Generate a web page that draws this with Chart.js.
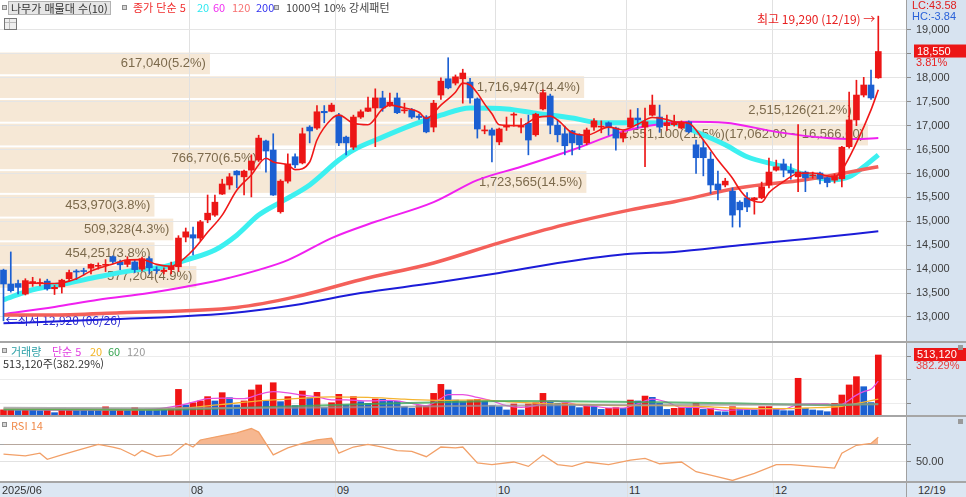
<!DOCTYPE html>
<html lang="ko">
<head>
<meta charset="utf-8">
<title>나무가 일봉</title>
<script src="https://cdn.jsdelivr.net/npm/chart.js@4.4.1/dist/chart.umd.min.js"></script>
<style>
  html, body { margin: 0; padding: 0; background: #fff; }
  #wrap { position: relative; width: 966px; height: 497px; overflow: hidden; font-family: 'Noto Sans CJK KR', 'Noto Sans', sans-serif; }
  canvas { position: absolute; left: 0; }
  .lg { position: absolute; font-size: 11px; line-height: 14px; white-space: nowrap; }
  .sq { position: absolute; width: 3px; height: 3px; border: 1px solid #8c8c8c; background: #d4d4d4; }
  .hr { position: absolute; left: 0; width: 966px; height: 2px; background: #a6a6a6; }
  .vl { position: absolute; width: 1px; background: #dedede; }
  #xband { position: absolute; left: 0; top: 483px; width: 966px; height: 14px; background: #dce7f3; }
  .xl { position: absolute; top: 483px; font: 11px 'Liberation Sans', sans-serif; line-height: 14px; color: #333; }
</style>
</head>
<body>
<div id="wrap">
  <canvas id="cPrice" width="966" height="341" style="top:0"></canvas>
  <div class="hr" style="top:341px"></div>
  <canvas id="cVol" width="966" height="72" style="top:343px"></canvas>
  <div class="hr" style="top:415px"></div>
  <canvas id="cRsi" width="966" height="64" style="top:417px"></canvas>
  <div class="hr" style="top:481px"></div>
  <div id="xband"></div>

  <div class="sq" style="left:2px;top:5px"></div>
  <div class="lg" style="left:8px;top:1px;height:12px;line-height:12px;padding:0 2px;background:#e6e6e6;border:1px solid #b2b2b2;color:#333">나무가 매물대 수(10)</div>
  <div class="sq" style="left:122px;top:5px"></div>
  <div class="lg" style="left:133px;top:0;color:#f02c2c">종가 단순 5</div>
  <div class="lg" style="left:197px;top:0;color:#2ee8f0">20</div>
  <div class="lg" style="left:213px;top:0;color:#f030f0">60</div>
  <div class="lg" style="left:232px;top:0;color:#f77070">120</div>
  <div class="lg" style="left:256px;top:0;color:#3434f0">200</div>
  <div class="sq" style="left:274px;top:5px"></div>
  <div class="lg" style="left:286px;top:0;color:#444">1000억 10% 강세패턴</div>
  <div style="position:absolute;left:4px;top:18px;width:11px;height:10px;border:1px solid #777;background:linear-gradient(#bbb,#bbb) 0 3px/100% 1px no-repeat,linear-gradient(#bbb,#bbb) 4px 0/1px 100% no-repeat,#eee"></div>

  <div class="sq" style="left:2px;top:348px"></div>
  <div class="lg" style="left:11px;top:344px;color:#2a9fa6">거래량</div>
  <div class="lg" style="left:52px;top:344px;color:#e23ee2">단순 5</div>
  <div class="lg" style="left:90px;top:344px;color:#f2b422">20</div>
  <div class="lg" style="left:108px;top:344px;color:#35a450">60</div>
  <div class="lg" style="left:127px;top:344px;color:#999">120</div>
  <div class="lg" style="left:3px;top:356px;color:#333">513,120주(382.29%)</div>

  <div class="sq" style="left:2px;top:422px"></div>
  <div class="lg" style="left:11px;top:418px;color:#f08a4a">RSI 14</div>
  <div id="xlabels"></div>
</div>
<script>
// 일봉 (2025/06/26 ~ 12/19)
const opens = [
  13980, 13690, 13700, 13480, 13700, 13700, 13750, 13590, 13630, 13800,
  13960, 13970, 14020, 14060, 14080, 14260, 14150, 14100, 14150, 14000,
  14220, 13990, 13950, 13990, 14050, 14670, 14720, 14650, 15030, 15130,
  15570, 15760, 16050, 15930, 16070, 16280, 16680, 16490, 15200, 15840,
  16350, 16220, 16970, 16950, 17300, 17300, 17220, 16760, 16550, 17180,
  17300, 17370, 17580, 17430, 17580, 17310, 17330, 17200, 17180, 16970,
  17640, 17980, 17890, 17980, 17910, 17560, 16890, 16910, 16660, 16970,
  17220, 16970, 17050, 16810, 17350, 17620, 17010, 16830, 16890, 16810,
  16640, 16970, 16970, 17060, 16950, 16740, 16970, 17160, 16970, 17220,
  17180, 17000, 17020, 16950, 17080, 16600, 16540, 16300, 15780, 15760,
  15630, 15400, 15490, 15450, 15490, 15760, 16070, 16200, 16070, 15930,
  16030, 15950, 16010, 15910, 15860, 15890, 16560, 17120, 17640, 17850,
  18000
];
const highs = [
  14000, 14360, 13770, 13800, 13830, 13800, 13790, 13660, 13790, 13980,
  13990, 14020, 14110, 14130, 14200, 14280, 14190, 14260, 14200, 14250,
  14260, 14050, 14030, 14150, 14700, 14860, 14880, 15020, 15550, 15550,
  15880, 16000, 16060, 16070, 16390, 16800, 16700, 16830, 15870, 16410,
  16410, 16950, 17000, 17420, 17420, 17470, 17260, 16780, 17220, 17330,
  17600, 17770, 17720, 17680, 17680, 17470, 17360, 17240, 17210, 17530,
  18000, 18420, 18060, 18180, 17990, 17580, 17000, 16950, 16950, 17180,
  17270, 17150, 17220, 17260, 17750, 17660, 17120, 16990, 16900, 16830,
  16950, 17150, 17100, 17080, 16970, 16880, 17330, 17360, 17370, 17640,
  17430, 17220, 17220, 17100, 17100, 16700, 16700, 16450, 16050, 15900,
  15700, 15430, 15600, 15500, 15820, 16320, 16280, 16300, 16200, 17020,
  16050, 16030, 16030, 15930, 15990, 16570, 17700, 17950, 18010, 18160,
  19290
];
const lows = [
  12920, 13520, 13480, 13460, 13640, 13650, 13560, 13470, 13500, 13750,
  13780, 13880, 13900, 14000, 13950, 14120, 13990, 14050, 13930, 13960,
  13900, 13910, 13900, 13900, 13950, 14570, 14300, 14600, 14970, 15100,
  15560, 15670, 15700, 15550, 15510, 16250, 16030, 15540, 15170, 15800,
  16120, 16200, 16640, 16920, 17060, 17290, 16580, 16390, 16500, 17150,
  17290, 16560, 17300, 17400, 17250, 17260, 17150, 17130, 16850, 16870,
  17550, 17770, 17850, 17470, 17470, 16740, 16830, 16240, 16600, 16900,
  16990, 16850, 16390, 16780, 17330, 16830, 16660, 16390, 16390, 16500,
  16600, 16900, 16850, 16800, 16490, 16660, 16950, 16950, 16140, 17200,
  16860, 16900, 16990, 16930, 16850, 16000, 15950, 15580, 15450, 15720,
  14880, 14880, 15200, 15150, 15470, 15700, 16050, 15930, 15880, 15620,
  15620, 15900, 15780, 15720, 15800, 15720, 16530, 17000, 17600, 17550,
  17990
];
const closes = [
  13690, 13550, 13620, 13760, 13740, 13720, 13590, 13620, 13770, 13930,
  13940, 13950, 14100, 14080, 14100, 14160, 14090, 14190, 13990, 14220,
  14030, 13970, 13980, 14060, 14650, 14780, 14650, 14990, 15170, 15400,
  15780, 15930, 15970, 16050, 16260, 16740, 16470, 15550, 15840, 16200,
  16180, 16830, 16890, 17290, 17270, 17430, 16640, 16640, 17180, 17290,
  17370, 17580, 17370, 17490, 17270, 17330, 17180, 17170, 16870, 17470,
  17930, 17790, 18020, 18100, 17580, 16930, 16910, 16800, 16930, 17010,
  17240, 17000, 16700, 17240, 17690, 17010, 16810, 16580, 16640, 16600,
  16910, 17100, 16990, 16970, 16740, 16850, 17160, 17120, 17080, 17430,
  16970, 17060, 17060, 17060, 16870, 16330, 16330, 15760, 15660, 15840,
  15130, 15240, 15300, 15490, 15720, 16030, 16140, 16070, 16010, 16030,
  15910, 15970, 15890, 15810, 15950, 16550, 17120, 17640, 17850, 17580,
  18550
];
const volumes = [
  44000, 45000, 38000, 42000, 41000, 36000, 38000, 20000, 42000, 44000,
  43000, 42000, 41000, 40000, 70000, 42000, 48000, 45000, 62000, 48000,
  44000, 42000, 40000, 55000, 219000, 86000, 105000, 120000, 157000, 120000,
  191000, 148000, 86000, 120000, 214000, 257000, 120000, 276000, 114000, 157000,
  80000, 205000, 148000, 194000, 63000, 105000, 177000, 86000, 157000, 114000,
  100000, 137000, 134000, 120000, 118000, 71000, 57000, 80000, 82000, 185000,
  262000, 214000, 128000, 114000, 128000, 134000, 120000, 80000, 71000, 43000,
  94000, 43000, 94000, 105000, 185000, 108000, 100000, 103000, 80000, 63000,
  80000, 77000, 48000, 57000, 63000, 57000, 128000, 120000, 162000, 151000,
  100000, 48000, 57000, 63000, 57000, 100000, 48000, 57000, 28000, 27000,
  71000, 57000, 43000, 42000, 71000, 72000, 48000, 37000, 36000, 314000,
  57000, 43000, 37000, 28000, 100000, 171000, 257000, 328000, 242000, 106400,
  513120
];

// 이동평균선 (캔들 번호, 값) - 그림에서 읽은 값
const ma5 = [[3,13710],[7,13700],[10,13800],[12,13960],[15,14110],[17,14190],[19,14200],[21,14100],[23,14060],[24,14130],[26,14400],[28,14770],[30,15130],[32,15650],[34,15970],[36,16320],[37,16240],[39,16180],[40,16080],[42,16240],[43,16700],[45,17140],[46,17220],[48,17050],[50,17020],[52,17350],[53,17430],[55,17370],[57,17280],[58,17150],[60,17430],[62,17700],[63,17890],[64,17850],[65,17680],[66,17450],[67,17250],[68,17020],[71,17000],[73,17160],[75,17200],[76,17120],[78,16850],[80,16800],[83,16970],[85,16910],[87,17030],[89,17170],[91,17130],[92,17080],[94,17050],[96,16700],[98,16280],[100,15900],[101,15660],[102,15490],[104,15400],[105,15600],[107,15830],[109,16000],[111,16010],[114,15930],[115,16070],[117,16640],[119,17330],[120,17750]];
const ma20 = [[0,13360],[4,13570],[9,13710],[13,13840],[18,13980],[22,14050],[25,14190],[29,14400],[32,14710],[35,15130],[38,15400],[42,15760],[46,16280],[48,16490],[52,16760],[56,17010],[60,17220],[64,17370],[69,17350],[73,17260],[78,17160],[82,17060],[87,17060],[92,17050],[95,16870],[99,16600],[102,16350],[107,16140],[110,15970],[114,15870],[116,15930],[118,16140],[120,16390]];
const ma60 = [[0,13060],[7,13210],[13,13360],[20,13500],[25,13630],[31,13820],[39,14190],[45,14650],[51,14990],[59,15400],[65,15860],[71,16140],[78,16490],[85,16880],[89,17010],[94,17080],[99,17060],[106,16870],[113,16740],[117,16720],[120,16740]];
const ma120 = [[0,13040],[6,13040],[16,13090],[32,13200],[40,13420],[49,13780],[59,14130],[68,14550],[77,14930],[86,15240],[92,15410],[101,15700],[110,15870],[120,16140]];
const ma200 = [[0,12870],[13,12940],[31,13080],[40,13250],[49,13500],[59,13710],[68,13920],[77,14150],[86,14320],[92,14360],[101,14500],[110,14630],[120,14790]];

// 거래량 이동평균
const volMa5 = [[0,45000],[10,42000],[20,48000],[24,80000],[26,110000],[28,140000],[30,145000],[33,140000],[35,175000],[37,200000],[39,190000],[41,170000],[43,155000],[45,130000],[47,130000],[50,120000],[53,125000],[56,100000],[58,80000],[60,140000],[61,175000],[63,175000],[65,150000],[67,120000],[69,80000],[71,65000],[73,80000],[75,120000],[77,110000],[79,85000],[81,75000],[83,60000],[85,60000],[87,95000],[89,135000],[91,110000],[93,65000],[95,65000],[97,55000],[99,40000],[101,45000],[103,50000],[105,55000],[107,50000],[109,90000],[111,95000],[113,95000],[114,80000],[115,90000],[117,170000],[118,200000],[119,220000],[120,290000]];
const volMa20 = [[0,50000],[20,45000],[25,60000],[30,90000],[35,120000],[40,140000],[45,155000],[50,150000],[55,135000],[60,125000],[65,130000],[70,110000],[75,95000],[80,90000],[85,80000],[90,80000],[95,75000],[100,60000],[105,55000],[108,55000],[110,60000],[115,75000],[118,110000],[120,135000]];
const volMa60 = [[0,48000],[20,45000],[30,55000],[40,75000],[50,95000],[60,110000],[70,120000],[80,115000],[90,110000],[100,100000],[110,88000],[115,85000],[120,95000]];
const volMa120 = [[0,62000],[20,58000],[40,62000],[60,75000],[80,85000],[100,88000],[120,92000]];

// RSI 14
const rsi14 = [[0,59],[3,57],[5,60],[6,53],[8,58],[10,63],[13,70],[15,67],[16,65],[18,57],[19,63],[21,56],[23,58],[25,71],[26,67],[27,75],[30,80],[32,83],[34,88],[35,84],[37,58],[39,66],[41,71],[43,75],[45,77],[46,60],[48,67],[50,70],[52,67],[54,63],[56,62],[58,56],[60,67],[62,66],[63,67],[65,49],[67,47],[70,50],[72,45],[74,58],[76,47],[78,45],[80,50],[83,47],[86,52],[88,54],[90,48],[93,50],[95,39],[98,33],[100,29],[103,37],[106,47],[108,47],[111,45],[114,43],[115,60],[117,69],[119,71],[120,78]];

// 매물대 (아래에서 위로)
const zoneLow = 13590;
const zoneStep = 496;
const zoneVolumes = [577204, 454251, 509328, 453970, 1723565, 766770, 2551100, 2515126, 1716947, 617040];
const zonePcts = [4.9, 3.8, 4.3, 3.8, 14.5, 6.5, 21.5, 21.2, 14.4, 5.2];

const monthStarts = [0, 26, 46, 68, 86, 106];
const monthLabels = ['2025/06', '08', '09', '10', '11', '12'];
const lastDate = '12/19';
const lowDate = '06/26';
const priceTicks = [13000, 13500, 14000, 14500, 15000, 15500, 16000, 16500, 17000, 17500, 18000, 18500, 19000];
const dayChangePct = 3.81;
const volChangePct = 382.29;

const RED = '#ec1616';
const BLUE = '#1b5fd2';
const NUM_FONT = "11px 'Liberation Sans', sans-serif";
const fmt = v => v.toLocaleString('en-US');
const pts = arr => arr.map(([x, y]) => ({ x, y }));
const idx = closes.map((_, i) => i);

function xAxis() {
  return {
    type: 'linear', min: -0.48, max: 123.8, offset: false,
    ticks: { display: false },
    grid: { color: '#e1e1e1', drawTicks: false, offset: false },
    border: { display: false },
    afterBuildTicks: s => { s.ticks = monthStarts.slice(1).map(m => ({ value: m - 0.5 })); }
  };
}

function yAxis(min, max, ticks, extra) {
  return Object.assign({
    position: 'right', min, max,
    afterFit: s => { s.width = 60; },
    afterBuildTicks: s => { s.ticks = ticks.map(v => ({ value: v })); },
    ticks: { display: false },
    grid: { color: '#e5e5e5', tickLength: 5, tickColor: '#8a8a8a' },
    border: { color: '#a0a0a0' }
  }, extra || {});
}

const axisBg = {
  id: 'axisBg',
  beforeDraw(chart) {
    const { ctx, chartArea, width, height } = chart;
    ctx.save();
    ctx.fillStyle = '#d7e3f0';
    ctx.fillRect(chartArea.right, 0, width - chartArea.right, height);
    ctx.restore();
  }
};

function tag(ctx, x, y, text) {
  ctx.fillStyle = RED;
  ctx.fillRect(x, y - 7, 52, 13);
  ctx.fillStyle = '#fff';
  ctx.fillText(text, x + 3, y);
}

const zonePlugin = {
  id: 'zones',
  beforeDraw(chart) {
    const { ctx, chartArea, scales: { y } } = chart;
    const maxVol = Math.max(...zoneVolumes);
    ctx.save();
    ctx.fillStyle = '#f6e8d6';
    zoneVolumes.forEach((v, k) => {
      const top = y.getPixelForValue(zoneLow + (k + 1) * zoneStep) + 1;
      const bot = y.getPixelForValue(zoneLow + k * zoneStep) - 1;
      ctx.fillRect(chartArea.left, top, chartArea.width * 0.958 * v / maxVol, bot - top);
    });
    ctx.restore();
  },
  beforeDatasetsDraw(chart) {
    const { ctx, chartArea, scales: { x, y } } = chart;
    const maxVol = Math.max(...zoneVolumes);
    ctx.save();
    ctx.font = "13px 'Liberation Sans', sans-serif";
    ctx.fillStyle = '#7c6a4c';
    ctx.textAlign = 'right';
    ctx.textBaseline = 'middle';
    zoneVolumes.forEach((v, k) => {
      const lo = zoneLow + k * zoneStep, hi = lo + zoneStep;
      const yc = (y.getPixelForValue(lo) + y.getPixelForValue(hi)) / 2;
      let text = `${fmt(v)}(${zonePcts[k].toFixed(1)}%)`;
      if (v === maxVol) {
        const f2 = n => n.toLocaleString('en-US', { minimumFractionDigits: 2 });
        text += `(${f2(hi)} ~ ${f2(lo)})`;
      }
      ctx.fillText(text, chartArea.left + chartArea.width * 0.958 * v / maxVol - 4, yc);
    });
    // 최저 표시
    const lowV = Math.min(...lows);
    const li = lows.indexOf(lowV);
    ctx.font = "12px 'Noto Sans CJK KR', sans-serif";
    ctx.fillStyle = '#2b2bd0';
    ctx.textAlign = 'left';
    ctx.fillText(`←최저 ${fmt(lowV)} (${lowDate})`, x.getPixelForValue(li) + 2, y.getPixelForValue(lowV));
    ctx.restore();
  },
  afterDatasetsDraw(chart) {
    const { ctx, scales: { x, y } } = chart;
    const highV = Math.max(...highs);
    const hi = highs.indexOf(highV);
    ctx.save();
    ctx.font = "12px 'Noto Sans CJK KR', sans-serif";
    ctx.fillStyle = '#e82020';
    ctx.textAlign = 'right';
    ctx.textBaseline = 'middle';
    ctx.fillText(`최고 ${fmt(highV)} (${lastDate}) →`, x.getPixelForValue(hi) - 3, y.getPixelForValue(highV) + 3);
    ctx.restore();
  },
  afterDraw(chart) {
    const { ctx, chartArea, scales: { y } } = chart;
    const last = closes[closes.length - 1];
    const lx = chartArea.right + 10;
    ctx.save();
    ctx.font = NUM_FONT;
    ctx.textBaseline = 'middle';
    ctx.fillStyle = '#3c3c3c';
    priceTicks.filter(v => v !== 18500).forEach(v => ctx.fillText(fmt(v), lx, y.getPixelForValue(v)));
    const lc = (last / Math.min(...lows) - 1) * 100;
    const hc = (last / Math.max(...highs) - 1) * 100;
    ctx.fillStyle = '#e02020';
    ctx.fillText(`LC:${lc.toFixed(2)}`, chartArea.right + 6, 6);
    ctx.fillStyle = '#2a62d8';
    ctx.fillText(`HC:${hc.toFixed(2)}`, chartArea.right + 6, 17);
    const ly = y.getPixelForValue(last);
    tag(ctx, chartArea.right + 8, ly, fmt(last));
    ctx.fillStyle = '#e82020';
    ctx.fillText(`${dayChangePct.toFixed(2)}%`, lx, ly + 11);
    ctx.restore();
  }
};

const candleColors = idx.map(i => (closes[i] >= opens[i] ? RED : BLUE));
const maLine = (data, color, width, order) => ({
  type: 'line', data: pts(data), borderColor: color, borderWidth: width,
  pointRadius: 0, cubicInterpolationMode: 'monotone', order
});

const priceChart = new Chart(document.getElementById('cPrice'), {
  type: 'bar',
  data: {
    datasets: [
      maLine(ma200, '#1c1cd8', 2, 9),
      maLine(ma120, '#f4605a', 3.5, 9),
      maLine(ma60, '#f020f0', 2, 9),
      maLine(ma20, '#3cf0f0', 5, 9),
      {
        type: 'bar', data: idx.map(i => ({ x: i, y: [lows[i], highs[i]] })),
        backgroundColor: candleColors, barThickness: 1, grouped: false, order: 5
      },
      {
        type: 'bar', data: idx.map(i => ({ x: i, y: [opens[i], closes[i]] })),
        backgroundColor: candleColors, barThickness: 6, minBarLength: 1, grouped: false, order: 4
      },
      maLine(ma5, '#f01818', 1.6, 1)
    ]
  },
  options: {
    responsive: false, animation: false, devicePixelRatio: 1,
    layout: { padding: 0 },
    plugins: { legend: { display: false }, tooltip: { enabled: false } },
    scales: { x: xAxis(), y: yAxis(12498, 19627, priceTicks) }
  },
  plugins: [axisBg, zonePlugin]
});

const volColors = volumes.map((v, i) => (i === 0 || v >= volumes[i - 1] ? '#f01414' : '#1b60d2'));
const volPlugin = {
  id: 'volLabels',
  afterDraw(chart) {
    const { ctx, chartArea, scales: { y } } = chart;
    const last = volumes[volumes.length - 1];
    const ly = y.getPixelForValue(last);
    ctx.save();
    ctx.font = NUM_FONT;
    ctx.textBaseline = 'middle';
    tag(ctx, chartArea.right + 8, ly, fmt(last));
    ctx.fillStyle = '#e84040';
    ctx.fillText(`${volChangePct.toFixed(2)}%`, chartArea.right + 10, ly + 11);
    ctx.fillStyle = '#9a9a9a';
    ctx.fillRect(chart.width - 8, 2, 5, 5);
    ctx.restore();
  }
};

new Chart(document.getElementById('cVol'), {
  type: 'bar',
  data: {
    datasets: [
      { type: 'bar', data: idx.map(i => ({ x: i, y: volumes[i] })), backgroundColor: volColors, barThickness: 6, order: 5 },
      maLine(volMa120, 'rgba(150,150,150,0.75)', 2, 1),
      maLine(volMa60, 'rgba(60,170,90,0.8)', 2, 1),
      maLine(volMa20, '#f4b430', 1.3, 1),
      maLine(volMa5, '#e850e0', 1.2, 1)
    ]
  },
  options: {
    responsive: false, animation: false, devicePixelRatio: 1,
    layout: { padding: 0 },
    plugins: { legend: { display: false }, tooltip: { enabled: false } },
    scales: { x: xAxis(), y: yAxis(0, 615700, [100000, 300000, 500000], { grid: { color: '#ececec', tickLength: 5, tickColor: '#8a8a8a' } }) }
  },
  plugins: [axisBg, volPlugin]
});

const rsiPlugin = {
  id: 'rsiLabels',
  afterDraw(chart) {
    const { ctx, chartArea, scales: { y } } = chart;
    ctx.save();
    ctx.font = NUM_FONT;
    ctx.textBaseline = 'middle';
    ctx.fillStyle = '#3c3c3c';
    ctx.fillText('50.00', chartArea.right + 10, y.getPixelForValue(50));
    ctx.fillStyle = '#9a9a9a';
    ctx.fillRect(chart.width - 8, 2, 5, 5);
    ctx.restore();
  }
};

new Chart(document.getElementById('cRsi'), {
  type: 'line',
  data: {
    datasets: [{
      data: pts(rsi14), borderColor: '#f2a068', borderWidth: 1.3, pointRadius: 0, tension: 0,
      fill: { target: { value: 70 }, above: 'rgba(245,170,125,0.85)', below: 'rgba(0,0,0,0)' }
    }]
  },
  options: {
    responsive: false, animation: false, devicePixelRatio: 1,
    layout: { padding: 0 },
    plugins: { legend: { display: false }, tooltip: { enabled: false } },
    scales: {
      x: xAxis(),
      y: yAxis(28.4, 101.1, [50, 70], {
        grid: { color: c => (c.tick && c.tick.value === 70 ? '#a8a8a8' : '#e2e2e2'), tickLength: 5, tickColor: '#8a8a8a' }
      })
    }
  },
  plugins: [axisBg, rsiPlugin]
});

// 날짜축
const xs = priceChart.scales.x;
const holder = document.getElementById('xlabels');
monthStarts.forEach((m, k) => {
  const px = k === 0 ? 0 : xs.getPixelForValue(m - 0.5);
  if (k > 0) {
    const line = document.createElement('div');
    line.className = 'vl';
    line.style.cssText = `left:${Math.round(px)}px;top:483px;height:14px`;
    holder.appendChild(line);
  }
  const lab = document.createElement('div');
  lab.className = 'xl';
  lab.style.left = `${Math.round(px) + 2}px`;
  lab.textContent = monthLabels[k];
  holder.appendChild(lab);
});
const sep = document.createElement('div');
sep.className = 'vl';
sep.style.cssText = `left:${Math.round(xs.right)}px;top:483px;height:14px;background:#a0a0a0`;
holder.appendChild(sep);
const lastLab = document.createElement('div');
lastLab.className = 'xl';
lastLab.style.left = `${Math.round(xs.right) + 12}px`;
lastLab.textContent = lastDate;
holder.appendChild(lastLab);
</script>
</body>
</html>
